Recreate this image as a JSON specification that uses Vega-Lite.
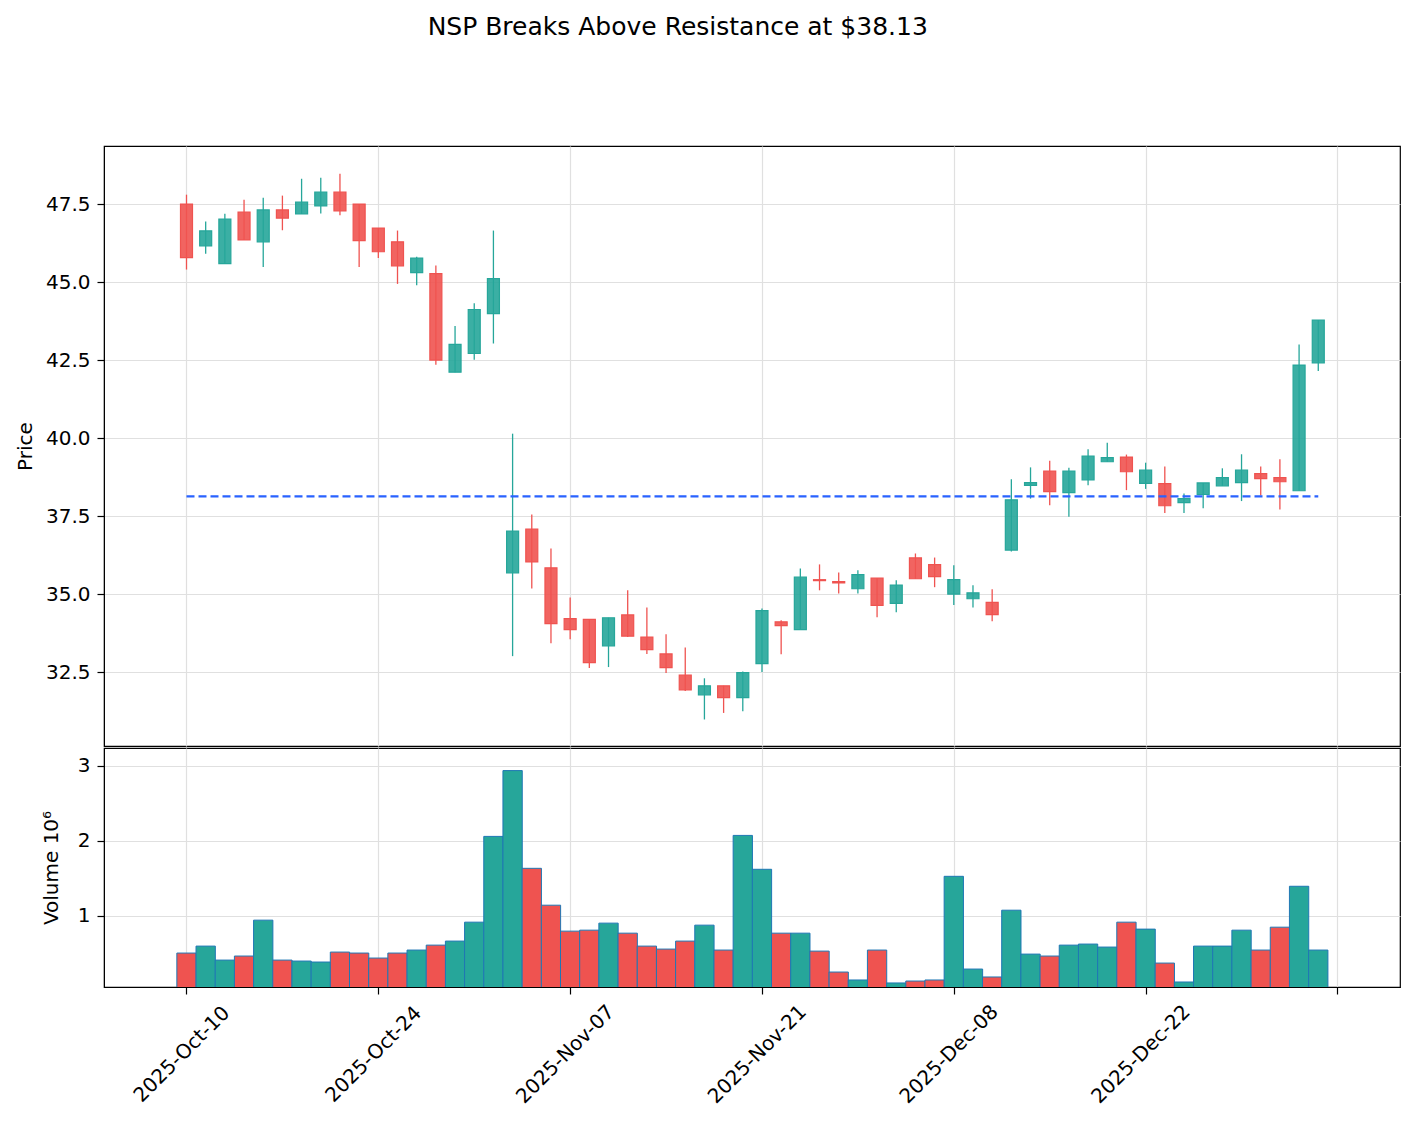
{
  "$schema": "https://vega.github.io/schema/vega-lite/v6.json",
  "autosize": {"type": "pad"},
  "padding": {"left": 14, "top": 15, "right": 15, "bottom": 5},
  "background": "white",
  "title": {"text": "NSP Breaks Above Resistance at $38.13", "anchor": "middle", "dx": -30, "offset": 105, "fontSize": 25, "fontWeight": "normal", "font": "DejaVu Sans", "color": "black"},
  "config": {
    "font": "DejaVu Sans",
    "view": {"stroke": "black", "strokeWidth": 1.2},
    "axis": {"labelFont": "DejaVu Sans", "titleFont": "DejaVu Sans", "labelFontSize": 20, "titleFontSize": 20, "titleFontWeight": "normal", "labelColor": "black", "titleColor": "black", "tickColor": "black", "domainColor": "black", "tickWidth": 1.2, "gridColor": "#e0e0e0", "gridWidth": 1.2, "tickSize": 7, "labelPadding": 7}
  },
  "spacing": 0,
  "datasets": {
    "ohlc": [
      {"i":0,"date":"2025-10-10","open":47.5,"high":47.8,"low":45.4,"close":45.78,"volume":498000},
      {"i":1,"date":"2025-10-13","open":46.16,"high":46.94,"low":45.91,"close":46.64,"volume":591000},
      {"i":2,"date":"2025-10-14","open":45.59,"high":47.19,"low":45.59,"close":47.02,"volume":404000},
      {"i":3,"date":"2025-10-15","open":47.24,"high":47.64,"low":46.35,"close":46.35,"volume":458000},
      {"i":4,"date":"2025-10-16","open":46.29,"high":47.7,"low":45.48,"close":47.31,"volume":938000},
      {"i":5,"date":"2025-10-17","open":47.31,"high":47.77,"low":46.66,"close":47.05,"volume":404000},
      {"i":6,"date":"2025-10-20","open":47.18,"high":48.31,"low":47.18,"close":47.56,"volume":391000},
      {"i":7,"date":"2025-10-21","open":47.44,"high":48.34,"low":47.2,"close":47.88,"volume":378000},
      {"i":8,"date":"2025-10-22","open":47.88,"high":48.47,"low":47.14,"close":47.28,"volume":511000},
      {"i":9,"date":"2025-10-23","open":47.5,"high":47.5,"low":45.48,"close":46.33,"volume":498000},
      {"i":10,"date":"2025-10-24","open":46.73,"high":46.73,"low":45.77,"close":45.97,"volume":431000},
      {"i":11,"date":"2025-10-27","open":46.29,"high":46.65,"low":44.94,"close":45.52,"volume":498000},
      {"i":12,"date":"2025-10-28","open":45.3,"high":45.81,"low":44.9,"close":45.77,"volume":538000},
      {"i":13,"date":"2025-10-29","open":45.27,"high":45.53,"low":42.35,"close":42.5,"volume":604000},
      {"i":14,"date":"2025-10-30","open":42.11,"high":43.59,"low":42.11,"close":43.0,"volume":658000},
      {"i":15,"date":"2025-10-31","open":42.71,"high":44.32,"low":42.51,"close":44.12,"volume":911000},
      {"i":16,"date":"2025-11-03","open":43.99,"high":46.65,"low":43.03,"close":45.11,"volume":2058000},
      {"i":17,"date":"2025-11-04","open":35.68,"high":40.14,"low":33.01,"close":37.02,"volume":2938000},
      {"i":18,"date":"2025-11-05","open":37.08,"high":37.55,"low":35.18,"close":36.03,"volume":1631000},
      {"i":19,"date":"2025-11-06","open":35.84,"high":36.46,"low":33.42,"close":34.05,"volume":1138000},
      {"i":20,"date":"2025-11-07","open":34.21,"high":34.89,"low":33.55,"close":33.86,"volume":791000},
      {"i":21,"date":"2025-11-10","open":34.19,"high":34.19,"low":32.63,"close":32.8,"volume":804000},
      {"i":22,"date":"2025-11-11","open":33.34,"high":34.24,"low":32.66,"close":34.24,"volume":898000},
      {"i":23,"date":"2025-11-12","open":34.33,"high":35.12,"low":33.62,"close":33.65,"volume":764000},
      {"i":24,"date":"2025-11-13","open":33.62,"high":34.57,"low":33.08,"close":33.22,"volume":591000},
      {"i":25,"date":"2025-11-14","open":33.08,"high":33.71,"low":32.47,"close":32.64,"volume":551000},
      {"i":26,"date":"2025-11-17","open":32.4,"high":33.29,"low":31.89,"close":31.93,"volume":658000},
      {"i":27,"date":"2025-11-18","open":31.77,"high":32.3,"low":30.98,"close":32.06,"volume":871000},
      {"i":28,"date":"2025-11-19","open":32.06,"high":32.06,"low":31.19,"close":31.68,"volume":538000},
      {"i":29,"date":"2025-11-20","open":31.68,"high":32.52,"low":31.24,"close":32.48,"volume":2071000},
      {"i":30,"date":"2025-11-21","open":32.77,"high":34.54,"low":32.5,"close":34.47,"volume":1618000},
      {"i":31,"date":"2025-11-24","open":34.11,"high":34.16,"low":33.07,"close":33.99,"volume":764000},
      {"i":32,"date":"2025-11-25","open":33.86,"high":35.82,"low":33.86,"close":35.54,"volume":764000},
      {"i":33,"date":"2025-11-26","open":35.46,"high":35.95,"low":35.12,"close":35.43,"volume":524000},
      {"i":34,"date":"2025-11-28","open":35.4,"high":35.69,"low":35.02,"close":35.36,"volume":244000},
      {"i":35,"date":"2025-12-01","open":35.17,"high":35.76,"low":35.02,"close":35.62,"volume":138000},
      {"i":36,"date":"2025-12-02","open":35.51,"high":35.51,"low":34.26,"close":34.64,"volume":538000},
      {"i":37,"date":"2025-12-03","open":34.7,"high":35.44,"low":34.42,"close":35.29,"volume":98000},
      {"i":38,"date":"2025-12-04","open":36.16,"high":36.3,"low":35.49,"close":35.49,"volume":124000},
      {"i":39,"date":"2025-12-05","open":35.94,"high":36.17,"low":35.22,"close":35.56,"volume":138000},
      {"i":40,"date":"2025-12-08","open":35.0,"high":35.92,"low":34.65,"close":35.46,"volume":1524000},
      {"i":41,"date":"2025-12-09","open":34.85,"high":35.28,"low":34.57,"close":35.04,"volume":284000},
      {"i":42,"date":"2025-12-10","open":34.73,"high":35.15,"low":34.13,"close":34.34,"volume":178000},
      {"i":43,"date":"2025-12-11","open":36.41,"high":38.68,"low":36.36,"close":38.02,"volume":1071000},
      {"i":44,"date":"2025-12-12","open":38.48,"high":39.06,"low":38.06,"close":38.57,"volume":484000},
      {"i":45,"date":"2025-12-15","open":38.94,"high":39.27,"low":37.85,"close":38.28,"volume":458000},
      {"i":46,"date":"2025-12-16","open":38.25,"high":39.05,"low":37.48,"close":38.94,"volume":604000},
      {"i":47,"date":"2025-12-17","open":38.66,"high":39.64,"low":38.49,"close":39.42,"volume":618000},
      {"i":48,"date":"2025-12-18","open":39.24,"high":39.85,"low":39.24,"close":39.37,"volume":578000},
      {"i":49,"date":"2025-12-19","open":39.39,"high":39.47,"low":38.33,"close":38.92,"volume":911000},
      {"i":50,"date":"2025-12-22","open":38.55,"high":39.21,"low":38.37,"close":38.97,"volume":818000},
      {"i":51,"date":"2025-12-23","open":38.54,"high":39.09,"low":37.6,"close":37.83,"volume":364000},
      {"i":52,"date":"2025-12-24","open":37.93,"high":38.22,"low":37.6,"close":38.06,"volume":111000},
      {"i":53,"date":"2025-12-26","open":38.19,"high":38.56,"low":37.75,"close":38.56,"volume":591000},
      {"i":54,"date":"2025-12-29","open":38.47,"high":39.03,"low":38.47,"close":38.73,"volume":591000},
      {"i":55,"date":"2025-12-30","open":38.57,"high":39.48,"low":37.98,"close":38.97,"volume":804000},
      {"i":56,"date":"2025-12-31","open":38.86,"high":39.09,"low":38.16,"close":38.7,"volume":538000},
      {"i":57,"date":"2026-01-02","open":38.73,"high":39.32,"low":37.71,"close":38.6,"volume":844000},
      {"i":58,"date":"2026-01-05","open":38.31,"high":43.0,"low":38.31,"close":42.34,"volume":1391000},
      {"i":59,"date":"2026-01-06","open":42.41,"high":43.78,"low":42.15,"close":43.78,"volume":538000}
    ],
    "resistance": [{"level":38.13,"start":0,"end":59}]
  },
  "vconcat": [
    {
      "width": 1296,
      "height": 600,
      "layer": [
        {
          "data": {"name": "ohlc"},
          "mark": {"type": "rule", "strokeWidth": 1.3},
          "encoding": {
            "x": {"field": "i", "type": "quantitative", "scale": {"domain": [-4.04, 63.0], "nice": false, "zero": false}, "axis": {"values": [0,10,20,30,40,50,60], "labels": false, "ticks": false, "domain": false, "title": null, "grid": true}},
            "y": {"field": "low", "type": "quantitative", "scale": {"domain": [30.13, 49.36], "nice": false, "zero": false}, "axis": {"values": [32.5,35,37.5,40,42.5,45,47.5], "format": ".1f", "title": "Price", "grid": true, "titlePadding": 10}},
            "y2": {"field": "high"},
            "color": {"condition": {"test": "datum.close >= datum.open", "value": "#26a69a"}, "value": "#ef5350"}
          }
        },
        {
          "data": {"name": "ohlc"},
          "mark": {"type": "bar", "width": 12, "strokeWidth": 1.2, "fillOpacity": 0.9},
          "encoding": {
            "x": {"field": "i", "type": "quantitative"},
            "y": {"field": "open", "type": "quantitative"},
            "y2": {"field": "close"},
            "color": {"condition": {"test": "datum.close >= datum.open", "value": "#26a69a"}, "value": "#ef5350"},
            "stroke": {"condition": {"test": "datum.close >= datum.open", "value": "#26a69a"}, "value": "#ef5350"}
          }
        },
        {
          "data": {"name": "resistance"},
          "mark": {"type": "rule", "color": "#2962ff", "strokeWidth": 2.2, "strokeDash": [8, 4]},
          "encoding": {
            "x": {"field": "start", "type": "quantitative"},
            "x2": {"field": "end"},
            "y": {"field": "level", "type": "quantitative"}
          }
        }
      ]
    },
    {
      "width": 1296,
      "height": 239,
      "data": {"name": "ohlc"},
      "mark": {"type": "bar", "width": 19.3, "stroke": "#1f77b4", "strokeWidth": 1, "clip": true},
      "encoding": {
        "x": {"field": "i", "type": "quantitative", "scale": {"domain": [-4.04, 63.0], "nice": false, "zero": false}, "axis": {"values": [0,10,20,30,40,50,60], "labelExpr": "['2025-Oct-10','2025-Oct-24','2025-Nov-07','2025-Nov-21','2025-Dec-08','2025-Dec-22',''][round(datum.value/10)]", "labelAngle": -45, "labelAlign": "center", "labelBaseline": "middle", "labelPadding": 60, "labelOffset": -5, "title": null, "grid": true}},
        "y": {"field": "volume", "type": "quantitative", "scale": {"domain": [44000, 3240000], "nice": false, "zero": false}, "axis": {"values": [1000000, 2000000, 3000000], "labelExpr": "format(datum.value/1000000, 'd')", "title": "Volume  10⁶", "grid": true, "titlePadding": 16}},
        "color": {"condition": {"test": "datum.close >= datum.open", "value": "#26a69a"}, "value": "#ef5350"}
      }
    }
  ]
}
